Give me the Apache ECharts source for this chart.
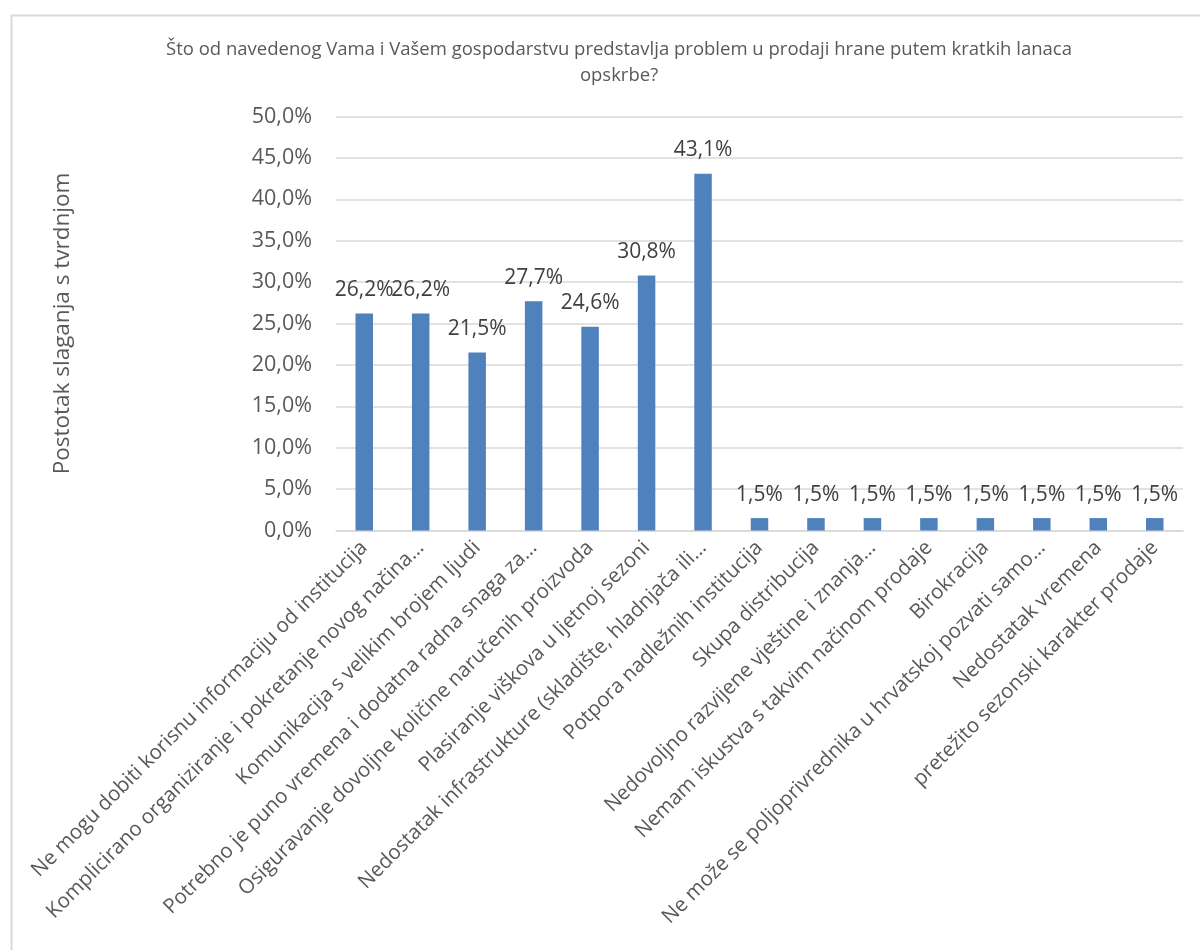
<!DOCTYPE html>
<html>
<head>
<meta charset="utf-8">
<script src="https://cdn.jsdelivr.net/npm/echarts@6/dist/echarts.min.js"></script>
<style>html,body{margin:0;padding:0;background:#fff;}#c{width:1200px;height:950px;}</style>
</head>
<body>
<div id="c"></div>
<script>
const titleText = 'Što od navedenog Vama i Vašem gospodarstvu predstavlja problem u prodaji hrane putem kratkih lanaca\nopskrbe?';
const yAxisName = 'Postotak slaganja s tvrdnjom';
const categories = [
  'Ne mogu dobiti korisnu informaciju od institucija',
  'Komplicirano organiziranje i pokretanje novog načina…',
  'Komunikacija s velikim brojem ljudi',
  'Potrebno je puno vremena i dodatna radna snaga za…',
  'Osiguravanje dovoljne količine naručenih proizvoda',
  'Plasiranje viškova u ljetnoj sezoni',
  'Nedostatak infrastrukture (skladište, hladnjača ili…',
  'Potpora nadležnih institucija',
  'Skupa distribucija',
  'Nedovoljno razvijene vještine i znanja…',
  'Nemam iskustva s takvim načinom prodaje',
  'Birokracija',
  'Ne može se poljoprivrednika u hrvatskoj pozvati samo…',
  'Nedostatak vremena',
  'pretežito sezonski karakter prodaje'
];
const values = [26.2, 26.2, 21.5, 27.7, 24.6, 30.8, 43.1, 1.5, 1.5, 1.5, 1.5, 1.5, 1.5, 1.5, 1.5];
const yMin = 0, yMax = 50, yStep = 5;

const fmt = v => v.toFixed(1).replace('.', ',') + '%';
const FONT = '"Open Sans", "Noto Sans", sans-serif';

const chart = echarts.init(document.getElementById('c'));
chart.setOption({
  animation: false,
  backgroundColor: '#fff',
  textStyle: { fontFamily: FONT },
  graphic: [{
    type: 'rect', left: 9, top: 13,
    shape: { x: 0, y: 0, width: 1300, height: 1000 },
    style: { fill: 'none', stroke: '#d9d9d9', lineWidth: 2 },
    silent: true
  }],
  title: {
    text: titleText,
    left: 614, top: 32, textAlign: 'center',
    textStyle: { fontFamily: FONT, fontSize: 18.5, fontWeight: 'normal', color: '#595959', lineHeight: 26 }
  },
  grid: { left: 336, right: 17, top: 116.5, bottom: 419.5, containLabel: false },
  xAxis: {
    type: 'category',
    data: categories,
    axisLine: { show: true, lineStyle: { color: '#d9d9d9', width: 1.5 } },
    axisTick: { show: false },
    axisLabel: {
      interval: 0, rotate: 45, margin: 14,
      fontFamily: FONT, fontSize: 20.5, color: '#595959'
    }
  },
  yAxis: {
    type: 'value', min: yMin, max: yMax, interval: yStep,
    name: yAxisName, nameLocation: 'middle', nameGap: 262,
    nameTextStyle: { fontFamily: FONT, fontSize: 22.5, color: '#595959' },
    axisLine: { show: false }, axisTick: { show: false },
    splitLine: { lineStyle: { color: '#d9d9d9', width: 1.5 } },
    axisLabel: { formatter: fmt, margin: 24, fontFamily: FONT, fontSize: 21.5, color: '#595959' }
  },
  series: [{
    type: 'bar',
    data: values,
    barWidth: 17.5,
    itemStyle: { color: '#4f81bd' },
    label: {
      show: true, position: 'top', distance: 13,
      formatter: p => fmt(p.value),
      fontFamily: FONT, fontSize: 21, color: '#404040'
    }
  }]
});
</script>
</body>
</html>
